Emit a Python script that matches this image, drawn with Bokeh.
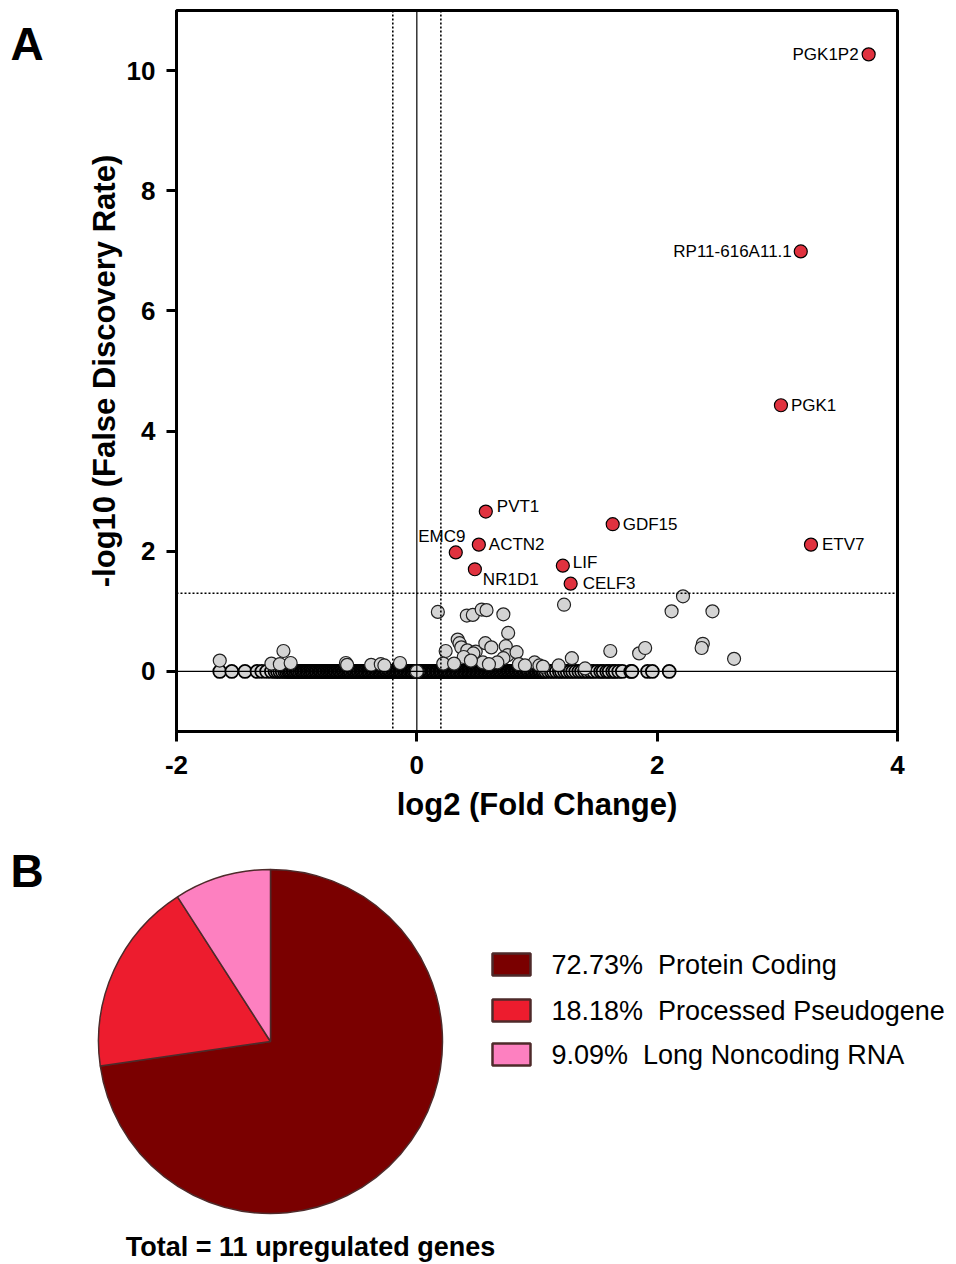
import numpy as np
from bokeh.plotting import figure
from bokeh.layouts import row
from bokeh.models import Range1d, FixedTicker, Span, ColumnDataSource
from bokeh.core.properties import value
from bokeh.embed import file_html
from bokeh.resources import INLINE

FONT = "Liberation Sans"

# ---------------- data: volcano plot ----------------
sig_genes = ["PGK1P2", "RP11-616A11.1", "PGK1", "ETV7", "GDF15", "PVT1",
             "ACTN2", "EMC9", "NR1D1", "LIF", "CELF3"]
sig_log2fc = [3.76, 3.195, 3.03, 3.28, 1.63, 0.574, 0.516, 0.324, 0.483, 1.215, 1.28]
sig_neglog10fdr = [10.27, 6.99, 4.43, 2.11, 2.45, 2.66, 2.11, 1.98, 1.70, 1.76, 1.46]

# non-significant genes with a visible -log10(FDR) above zero
ns_raised_log2fc = [-1.64, -1.11, -1.21, -1.14, -1.05, -0.59, -0.58, -0.38, -0.30, -0.27, -0.14,
                    0.175, 0.416, 0.466, 0.54, 0.58, 0.72, 0.76, 0.24, 0.34, 0.355, 0.37, 0.42,
                    0.49, 0.47, 0.57, 0.62, 0.74, 0.755, 0.72, 0.83, 0.39, 0.98, 0.22, 0.31,
                    0.55, 0.67, 0.45, 0.60, 0.85, 0.90, 1.02,
                    1.225, 2.215, 2.12, 2.46, 1.61, 1.85, 1.90, 2.38, 2.37, 2.64, 1.29, 1.18,
                    1.05, 1.40]
ns_raised_neglog10fdr = [0.18, 0.34, 0.13, 0.12, 0.14, 0.14, 0.11, 0.11, 0.12, 0.10, 0.14,
                         0.99, 0.93, 0.94, 1.03, 1.02, 0.95, 0.64, 0.34, 0.53, 0.47, 0.40, 0.35,
                         0.33, 0.30, 0.47, 0.40, 0.42, 0.27, 0.22, 0.32, 0.24, 0.15, 0.13, 0.13,
                         0.15, 0.15, 0.18, 0.12, 0.12, 0.10, 0.10,
                         1.11, 1.25, 1.00, 1.00, 0.34, 0.30, 0.39, 0.46, 0.39, 0.21, 0.22, 0.10,
                         0.08, 0.05]

# non-significant genes at -log10(FDR) = 0
ns_zero_log2fc = [
    -1.64, -1.54, -1.43, -1.33, -1.29, -1.25, -1.21, -1.18, -1.16, -1.14, -1.12, -1.10, -1.085,
    -1.07, -1.058,
    -1.046, -1.031, -1.022, -1.009, -0.996, -0.988, -0.975, -0.961, -0.954, -0.942, -0.930,
    -0.917, -0.909, -0.896, -0.884, -0.871, -0.866, -0.853, -0.840, -0.832, -0.819, -0.806,
    -0.797, -0.785, -0.772, -0.764, -0.751, -0.739, -0.728, -0.716, -0.705, -0.694, -0.681,
    -0.672, -0.660, -0.647, -0.638, -0.626, -0.613, -0.604, -0.591, -0.580, -0.569, -0.557,
    -0.548, -0.535, -0.523, -0.514, -0.502, -0.490, -0.481, -0.468, -0.457, -0.446, -0.434,
    -0.425, -0.412, -0.401, -0.392, -0.379, -0.368, -0.357, -0.345, -0.336, -0.323, -0.312,
    -0.303, -0.290, -0.279, -0.268, -0.256, -0.247, -0.234, -0.223, -0.214, -0.201, -0.190,
    -0.179, -0.167, -0.158, -0.145, -0.134, -0.125, -0.112, -0.101, -0.090, -0.078, -0.069,
    -0.056, -0.045, -0.036, -0.023, -0.012,
    0.011, 0.022, 0.034, 0.043, 0.056, 0.067, 0.076, 0.089, 0.100, 0.109, 0.122, 0.133, 0.142,
    0.155, 0.166, 0.175, 0.188, 0.199, 0.208, 0.221, 0.232, 0.241, 0.254, 0.265, 0.274, 0.287,
    0.298, 0.307, 0.320, 0.331, 0.340, 0.353, 0.364, 0.373, 0.386, 0.397, 0.406, 0.419, 0.430,
    0.439, 0.452, 0.463, 0.472, 0.485, 0.496, 0.505, 0.518, 0.529, 0.538, 0.551, 0.562, 0.571,
    0.584, 0.595, 0.604, 0.617, 0.628, 0.637, 0.650, 0.661, 0.670, 0.683, 0.694, 0.703, 0.716,
    0.727, 0.736, 0.749, 0.760, 0.769, 0.782, 0.793, 0.802, 0.815, 0.826, 0.835, 0.848, 0.859,
    0.868, 0.881, 0.892, 0.901, 0.914, 0.925, 0.934, 0.947, 0.958, 0.967, 0.980, 0.991, 1.000,
    1.013, 1.024, 1.033, 1.046, 1.057,
    1.072, 1.094, 1.118, 1.137, 1.161, 1.186, 1.204, 1.229, 1.251, 1.276, 1.297, 1.322, 1.348,
    1.371, 1.396, 1.42, 1.447, 1.47, 1.50, 1.53, 1.55, 1.58, 1.60, 1.63, 1.65, 1.68, 1.71,
    1.78, 1.79, 1.92, 1.96, 2.10,
    0.0,
]

x_ticks = [-2, 0, 2, 4]
y_ticks = [0, 2, 4, 6, 8, 10]
fc_cutoff = 0.2
fdr_cutoff = 1.3

# ---------------- data: pie ----------------
biotypes = ["Protein Coding", "Processed Pseudogene", "Long Noncoding RNA"]
biotype_counts = [8, 2, 1]

# ---------------- styling / layout (not data) ----------------
label_align = ["right", "right", "left", "left", "left", "left", "left", "center", "left", "left", "left"]
label_dx = [-10, -9, 10, 11, 10, 11, 10, -14, 8, 10, 12]
label_dy = [0, 0, 0, 0, 0, -5, 0, -16, 10, -3, 0]
pie_colors = ["#7a0000", "#ed1c2e", "#fd80c0"]
edge_color = "#4e2a2a"
gray_fill = "#d4d4d4"

# ================= panel letter "A" strip =================
pa = figure(frame_width=60, frame_height=721, min_border_left=0, min_border_right=0,
            min_border_top=10, min_border_bottom=109,
            x_range=Range1d(0, 60), y_range=Range1d(0, 721),
            x_axis_location=None, y_axis_location=None,
            output_backend="svg", toolbar_location=None,
            background_fill_color="white", border_fill_color="white")
pa.grid.visible = False
pa.outline_line_color = None
pa.text(x=[10], y=[688], text=["A"], text_font=value(FONT), text_font_style="bold",
        text_font_size="46px", text_color="black", text_baseline="alphabetic")

# ================= Figure A: volcano =================
p1 = figure(frame_width=721, frame_height=721,
            min_border_left=116, min_border_right=59, min_border_top=10, min_border_bottom=109,
            x_range=Range1d(-2, 4), y_range=Range1d(-1, 11),
            output_backend="svg", toolbar_location=None,
            background_fill_color="white", border_fill_color="white")
p1.grid.visible = False
p1.outline_line_color = "black"
p1.outline_line_width = 3
p1.outline_line_alpha = 1

for ax, ticks in ((p1.xaxis[0], x_ticks), (p1.yaxis[0], y_ticks)):
    ax.ticker = FixedTicker(ticks=ticks)
    ax.major_label_overrides = {t: str(t) for t in ticks}
    ax.minor_tick_line_color = None
    ax.axis_line_width = 3
    ax.major_tick_line_width = 3
    ax.major_tick_out = 10
    ax.major_tick_in = 0
    ax.major_label_text_font = FONT
    ax.major_label_text_font_style = "bold"
    ax.major_label_text_font_size = "26px"
    ax.major_label_text_color = "black"
    ax.axis_label_text_font = FONT
    ax.axis_label_text_font_style = "bold"
    ax.axis_label_text_font_size = "31px"
    ax.axis_label_text_color = "black"

p1.xaxis.axis_label = "log2 (Fold Change)"
p1.yaxis.axis_label = "-log10 (False Discovery Rate)"
p1.xaxis.major_label_standoff = 14
p1.xaxis.axis_label_standoff = 10
p1.yaxis.major_label_standoff = 11
p1.yaxis.axis_label_standoff = 2

# reference lines
p1.add_layout(Span(location=0, dimension="height", line_color="black", line_width=1.2))
p1.add_layout(Span(location=0, dimension="width", line_color="black", line_width=1.2))
for loc in (-fc_cutoff, fc_cutoff):
    p1.add_layout(Span(location=loc, dimension="height", line_color="black",
                       line_width=1.6, line_dash="2 2"))
p1.add_layout(Span(location=fdr_cutoff, dimension="width", line_color="black",
                   line_width=1.6, line_dash="2 2"))

# points
p1.scatter(ns_zero_log2fc[:-1], [0.0] * (len(ns_zero_log2fc) - 1), size=13,
           fill_color=gray_fill, line_color="black", line_width=1.8)
p1.scatter(ns_raised_log2fc, ns_raised_neglog10fdr, size=13,
           fill_color=gray_fill, line_color="#222222", line_width=1.2)
p1.scatter(ns_zero_log2fc[-1:], [0.0], size=13,
           fill_color=gray_fill, line_color="#222222", line_width=1.2)
p1.scatter(sig_log2fc, sig_neglog10fdr, size=13,
           fill_color="#e0323f", line_color="black", line_width=1.2)

lab_src = ColumnDataSource(dict(x=sig_log2fc, y=sig_neglog10fdr, t=sig_genes,
                                a=label_align, dx=label_dx, dy=label_dy))
p1.text(x="x", y="y", text="t", text_align="a", x_offset="dx", y_offset="dy",
        text_baseline="middle", text_font=value(FONT), text_font_size="17px",
        text_color="black", source=lab_src)

# ================= Figure B: pie =================
p2 = figure(frame_width=956, frame_height=424, min_border=0,
            x_range=Range1d(0, 956), y_range=Range1d(0, 424),
            x_axis_location=None, y_axis_location=None,
            output_backend="svg", toolbar_location=None,
            background_fill_color="white", border_fill_color="white")
p2.grid.visible = False
p2.outline_line_color = None

counts = np.array(biotype_counts, dtype=float)
total = counts.sum()
frac = counts / total
cum = np.concatenate([[0.0], np.cumsum(frac)])
start = np.pi / 2 - 2 * np.pi * cum[:-1]
end = np.pi / 2 - 2 * np.pi * cum[1:]

pie_src = ColumnDataSource(dict(start=start, end=end, color=pie_colors))
p2.wedge(x=270, y=223, radius=172, start_angle="start", end_angle="end",
         direction="clock", fill_color="color", line_color=edge_color, line_width=1.5,
         source=pie_src)

leg_y = [300, 254, 210]
leg_text = [f"{f * 100:.2f}%\u00a0\u00a0{n}" for f, n in zip(frac, biotypes)]
p2.rect(x=[511] * 3, y=leg_y, width=38, height=22, fill_color=pie_colors,
        line_color=edge_color, line_width=2.5)
p2.text(x=[551] * 3, y=leg_y, text=leg_text, text_baseline="middle", text_align="left",
        text_font=value(FONT), text_font_size="27px", text_color="black")

p2.text(x=[310], y=[18], text=[f"Total = {int(total)} upregulated genes"],
        text_align="center", text_baseline="alphabetic", text_font=value(FONT),
        text_font_style="bold", text_font_size="27px", text_color="black")
p2.text(x=[10], y=[394], text=["B"], text_font=value(FONT), text_font_style="bold",
        text_font_size="46px", text_color="black", text_baseline="alphabetic")

top = row(pa, p1, spacing=0)
open("out.html", "w").write(file_html([top, p2], INLINE))
